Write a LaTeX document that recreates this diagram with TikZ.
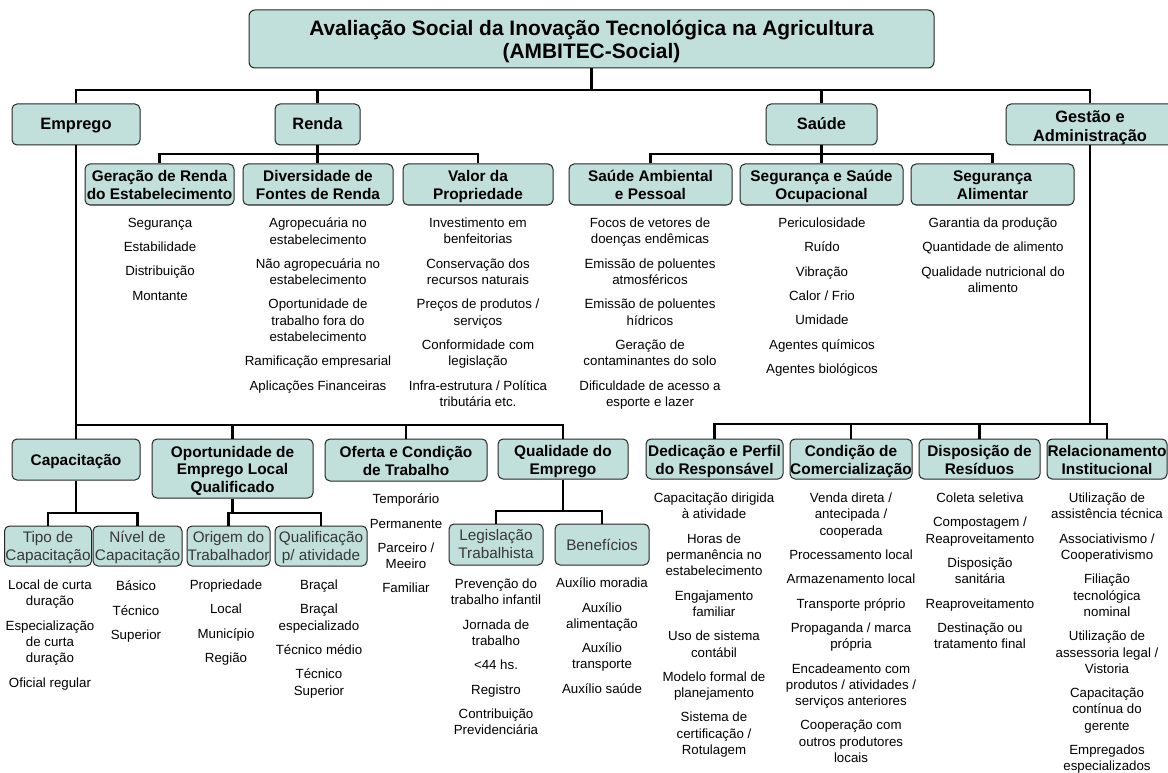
\documentclass[tikz,border=0pt]{standalone}
\usepackage{fontspec}
\setmainfont{Liberation Sans}
\usepackage{xcolor}
\definecolor{boxfill}{HTML}{C1DFDB}

\begin{document}
\begin{tikzpicture}[x=1pt, y=-1pt, line join=miter]

	% Define styles
	\tikzstyle{titlebox} = [rectangle, rounded corners=6pt, draw=black!85, line width=1pt, fill=boxfill, align=center, inner sep=0pt, minimum width=685pt, minimum height=58pt, font=\fontsize{20.9}{23.4}\selectfont\bfseries, text height=39.2pt, text depth=0pt]
	\tikzstyle{mainbox} = [rectangle, rounded corners=5pt, draw=black!85, line width=1pt, fill=boxfill, align=center, inner sep=0pt, minimum height=41pt, font=\fontsize{16.4}{18.7}\selectfont\bfseries, text height=11pt, text depth=0pt]
	\tikzstyle{subbox} = [mainbox, font=\fontsize{15.4}{17.9}\selectfont\bfseries, text height=30.5pt]
	\tikzstyle{detbox} = [mainbox, text=black!78, font=\fontsize{15.3}{17.7}\selectfont, text height=28pt]
	\tikzstyle{items} = [anchor=north, yshift=4.2pt, inner sep=0pt, align=center, font=\fontsize{13.3}{16.3}\selectfont, execute at begin node=\strut]
	\tikzstyle{conn} = [line width=2.6pt, black]

	\useasboundingbox (0,0) rectangle (1168,773);

	% Top
	\node[titlebox] (title) at (591.5,39) {Avaliação Social da Inovação Tecnológica na Agricultura\\(AMBITEC-Social)};

	% First level
	\node[mainbox, minimum width=128pt] (emprego) at (76,124.5) {Emprego};
	\node[mainbox, minimum width=85pt] (renda) at (317.5,124.5) {Renda};
	\node[mainbox, minimum width=111pt] (saude) at (821.5,124.5) {Saúde};
	\node[mainbox, minimum width=168pt, text height=33.8pt] (gestao) at (1090,124.5) {Gestão e\\Administração};

	% Renda
	\node[subbox, minimum width=149pt] (geracao) at (159.5,184.5) {Geração de Renda\\do Estabelecimento};
	\node[subbox, minimum width=150pt] (diversidade) at (318,184.5) {Diversidade de\\Fontes de Renda};
	\node[subbox, minimum width=150pt] (valor) at (478,184.5) {Valor da\\Propriedade};

	\node[items] (geracao-items) at (160,222) {Segurança\\[8pt] Estabilidade\\[8pt] Distribuição\\[8pt] Montante};
	\node[items] (diversidade-items) at (318,222) {Agropecuária no\\estabelecimento\\[8pt] Não agropecuária no\\estabelecimento\\[8pt] Oportunidade de\\trabalho fora do\\estabelecimento\\[8pt] Ramificação empresarial\\[8pt] Aplicações Financeiras};
	\node[items] (valor-items) at (478,222) {Investimento em\\benfeitorias\\[8pt] Conservação dos\\recursos naturais\\[8pt] Preços de produtos /\\serviços\\[8pt] Conformidade com\\legislação\\[8pt] Infra-estrutura / Política\\tributária etc.};

	% Saude
	\node[subbox, minimum width=163pt] (ambiental) at (650.5,184.5) {Saúde Ambiental\\e Pessoal};
	\node[subbox, minimum width=163pt] (ocupacional) at (821.5,184.5) {Segurança e Saúde\\Ocupacional};
	\node[subbox, minimum width=163pt] (alimentar) at (992.5,184.5) {Segurança\\Alimentar};

	\node[items] (ambiental-items) at (650,222) {Focos de vetores de\\doenças endêmicas\\[8pt] Emissão de poluentes\\atmosféricos\\[8pt] Emissão de poluentes\\hídricos\\[8pt] Geração de\\contaminantes do solo\\[8pt] Dificuldade de acesso a\\esporte e lazer};
	\node[items] (ocupacional-items) at (822,222) {Periculosidade\\[8pt] Ruído\\[8pt] Vibração\\[8pt] Calor / Frio\\[8pt] Umidade\\[8pt] Agentes químicos\\[8pt] Agentes biológicos};
	\node[items] (alimentar-items) at (993,222) {Garantia da produção\\[8pt] Quantidade de alimento\\[8pt] Qualidade nutricional do\\alimento};

	% Emprego
	\node[subbox, minimum width=128pt, text height=11.2pt] (capacitacao) at (76,459.5) {Capacitação};
	\node[subbox, minimum width=161pt, minimum height=59pt, text height=48.6pt] (oportunidade) at (232.5,468.5) {Oportunidade de\\Emprego Local\\Qualificado};
	\node[subbox, minimum width=162pt, minimum height=42pt] (oferta) at (406,460) {Oferta e Condição\\de Trabalho};
	\node[subbox, minimum width=130pt, minimum height=40pt] (qualidade) at (563,459) {Qualidade do\\Emprego};

	\node[detbox, minimum width=87pt, minimum height=40pt] (tipo) at (48,546) {Tipo de\\Capacitação};
	\node[detbox, minimum width=89pt, minimum height=40pt] (nivel) at (137.5,546) {Nível de\\Capacitação};
	\node[detbox, minimum width=83pt, minimum height=40pt] (origem) at (228.5,546) {Origem do\\Trabalhador};
	\node[detbox, minimum width=92pt, minimum height=40pt] (qualificacao) at (321,546) {Qualificação\\p/ atividade};
	\node[detbox, minimum width=94pt, minimum height=41pt] (legislacao) at (496,544.5) {Legislação\\Trabalhista};
	\node[detbox, minimum width=94pt, minimum height=41pt, text height=11pt] (beneficios) at (602,544.5) {Benefícios};

	\node[items] (tipo-items) at (50,584) {Local de curta\\duração\\[8pt] Especialização\\de curta\\duração\\[8pt] Oficial regular};
	\node[items] (nivel-items) at (136,585) {Básico\\[8pt] Técnico\\[8pt] Superior};
	\node[items] (origem-items) at (226,584) {Propriedade\\[8pt] Local\\[8pt] Município\\[8pt] Região};
	\node[items] (qualificacao-items) at (319,584) {Braçal\\[8pt] Braçal\\especializado\\[8pt] Técnico médio\\[8pt] Técnico\\Superior};
	\node[items] (oferta-items) at (406,498) {Temporário\\[8pt] Permanente\\[8pt] Parceiro /\\Meeiro\\[8pt] Familiar};
	\node[items] (legislacao-items) at (496,583) {Prevenção do\\trabalho infantil\\[8pt] Jornada de\\trabalho\\[8pt] <44 hs.\\[8pt] Registro\\[8pt] Contribuição\\Previdenciária};
	\node[items] (beneficios-items) at (602,582) {Auxílio moradia\\[8pt] Auxílio\\alimentação\\[8pt] Auxílio\\transporte\\[8pt] Auxílio saúde};

	% Gestao
	\node[subbox, minimum width=137pt, minimum height=40pt] (dedicacao) at (714.5,459) {Dedicação e Perfil\\do Responsável};
	\node[subbox, minimum width=122pt, minimum height=40pt] (comercial) at (851,459) {Condição de\\Comercialização};
	\node[subbox, minimum width=121pt, minimum height=40pt] (residuos) at (979.5,459) {Disposição de\\Resíduos};
	\node[subbox, minimum width=120pt, minimum height=40pt] (institucional) at (1107,459) {Relacionamento\\Institucional};

	\node[items] (dedicacao-items) at (714,497) {Capacitação dirigida\\à atividade\\[8pt] Horas de\\permanência no\\estabelecimento\\[8pt] Engajamento\\familiar\\[8pt] Uso de sistema\\contábil\\[8pt] Modelo formal de\\planejamento\\[8pt] Sistema de\\certificação /\\Rotulagem};
	\node[items] (comercial-items) at (851,497) {Venda direta /\\antecipada /\\cooperada\\[8pt] Processamento local\\[8pt] Armazenamento local\\[8pt] Transporte próprio\\[8pt] Propaganda / marca\\própria\\[8pt] Encadeamento com\\produtos / atividades /\\serviços anteriores\\[8pt] Cooperação com\\outros produtores\\locais};
	\node[items] (residuos-items) at (980,497) {Coleta seletiva\\[8pt] Compostagem /\\Reaproveitamento\\[8pt] Disposição\\sanitária\\[8pt] Reaproveitamento\\[8pt] Destinação ou\\tratamento final};
	\node[items] (institucional-items) at (1107,497) {Utilização de\\assistência técnica\\[8pt] Associativismo /\\Cooperativismo\\[8pt] Filiação\\tecnológica\\nominal\\[8pt] Utilização de\\assessoria legal /\\Vistoria\\[8pt] Capacitação\\contínua do\\gerente\\[8pt] Empregados\\especializados};

	% Bus lines
	\coordinate (topbus) at (0,90);
	\coordinate (rendabus) at (0,154);
	\coordinate (saudebus) at (0,154);
	\coordinate (empregobus) at (0,425);
	\coordinate (gestaobus) at (0,424);
	\coordinate (capbus) at (0,513);
	\coordinate (opbus) at (0,513);
	\coordinate (qualbus) at (0,511);

	% Connectors
	\draw[conn] (title.south) -- (title.south |- topbus);
	\draw[conn] (emprego.north) |- (gestao.north |- topbus) -- (gestao.north);
	\draw[conn] (renda.north) -- (renda.north |- topbus);
	\draw[conn] (saude.north) -- (saude.north |- topbus);

	\draw[conn] (geracao.north) |- (valor.north |- rendabus) -- (valor.north);
	\draw[conn] (renda.south) -- (renda.south |- diversidade.north);
	\draw[conn] (ambiental.north) |- (alimentar.north |- saudebus) -- (alimentar.north);
	\draw[conn] (saude.south) -- (saude.south |- ocupacional.north);

	\draw[conn] (emprego.south) -- (capacitacao.north);
	\draw[conn] (capacitacao.north |- empregobus) -| (qualidade.north);
	\draw[conn] (oportunidade.north) -- (oportunidade.north |- empregobus);
	\draw[conn] (oferta.north) -- (oferta.north |- empregobus);

	\draw[conn] (gestao.south) -- (gestao.south |- gestaobus);
	\draw[conn] (dedicacao.north) |- (institucional.north |- gestaobus) -- (institucional.north);
	\draw[conn] (comercial.north) -- (comercial.north |- gestaobus);
	\draw[conn] (residuos.north) -- (residuos.north |- gestaobus);

	\draw[conn] (tipo.north) |- (nivel.north |- capbus) -- (nivel.north);
	\draw[conn] (capacitacao.south) -- (capacitacao.south |- capbus);
	\draw[conn] (origem.north) |- (qualificacao.north |- opbus) -- (qualificacao.north);
	\draw[conn] (oportunidade.south) -- (oportunidade.south |- opbus);
	\draw[conn] (legislacao.north) |- (beneficios.north |- qualbus) -- (beneficios.north);
	\draw[conn] (qualidade.south) -- (qualidade.south |- qualbus);

\end{tikzpicture}
\end{document}
